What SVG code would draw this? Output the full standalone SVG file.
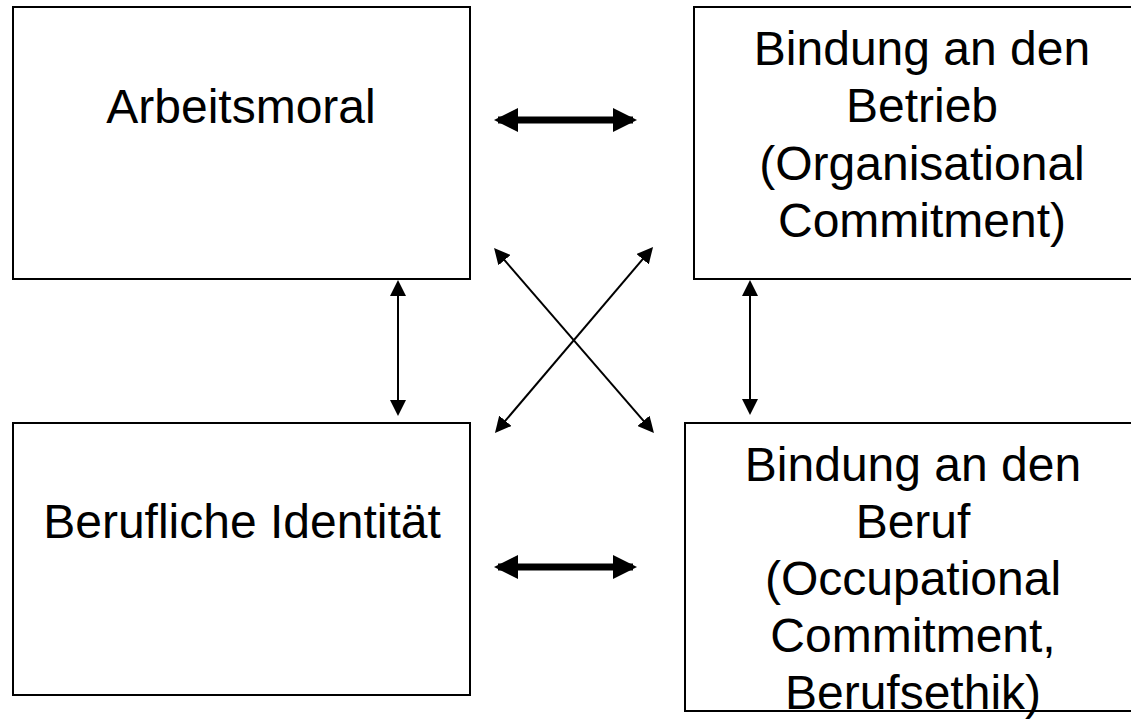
<svg xmlns="http://www.w3.org/2000/svg" width="1131" height="719" viewBox="0 0 1131 719">
<style>
.box{fill:#fff;stroke:#000;stroke-width:2}
.lbl{font-family:"Liberation Sans",Arial,sans-serif;font-size:48px;fill:#000;text-anchor:middle}
.thin{stroke:#000;stroke-width:2;fill:none;marker-start:url(#hs);marker-end:url(#hs)}
.thick{stroke:#000;stroke-width:7;fill:none;marker-start:url(#hl);marker-end:url(#hl)}
</style>
<defs>
<marker id="hs" markerUnits="userSpaceOnUse" markerWidth="16" markerHeight="16" refX="13" refY="8" orient="auto-start-reverse"><path d="M0,0 L16,8 L0,16 z" fill="#000"/></marker>
<marker id="hl" markerUnits="userSpaceOnUse" markerWidth="24" markerHeight="24" refX="20" refY="12" orient="auto-start-reverse"><path d="M0,0 L24,12 L0,24 z" fill="#000"/></marker>
</defs>
<rect width="1131" height="719" fill="#fff"/>
<g id="arbeitsmoral">
<rect class="box" x="13" y="7" width="457" height="272"/>
<text class="lbl" x="241" y="123">Arbeitsmoral</text>
</g>
<g id="betrieb">
<rect class="box" x="694" y="7" width="456" height="272"/>
<text class="lbl" x="922"><tspan x="922" y="65">Bindung an den</tspan><tspan x="922" y="122">Betrieb</tspan><tspan x="922" y="180">(Organisational</tspan><tspan x="922" y="237">Commitment)</tspan></text>
</g>
<g id="identitaet">
<rect class="box" x="13" y="423" width="457" height="272"/>
<text class="lbl" x="242" y="538">Berufliche Identität</text>
</g>
<g id="beruf">
<rect class="box" x="685" y="423" width="457" height="288"/>
<text class="lbl" x="913"><tspan x="913" y="481">Bindung an den</tspan><tspan x="913" y="538">Beruf</tspan><tspan x="913" y="595">(Occupational</tspan><tspan x="913" y="652">Commitment,</tspan><tspan x="913" y="709">Berufsethik)</tspan></text>
</g>
<g id="connectors">
<line class="thick" x1="498" y1="120" x2="633" y2="120"/>
<line class="thick" x1="498" y1="567" x2="633" y2="567"/>
<line class="thin" x1="398" y1="283" x2="398" y2="413"/>
<line class="thin" x1="750" y1="283" x2="750" y2="412"/>
<line class="thin" x1="496" y1="250.3" x2="652" y2="430.7"/>
<line class="thin" x1="651.1" y1="249.3" x2="496.9" y2="430.7"/>
</g>
</svg>
